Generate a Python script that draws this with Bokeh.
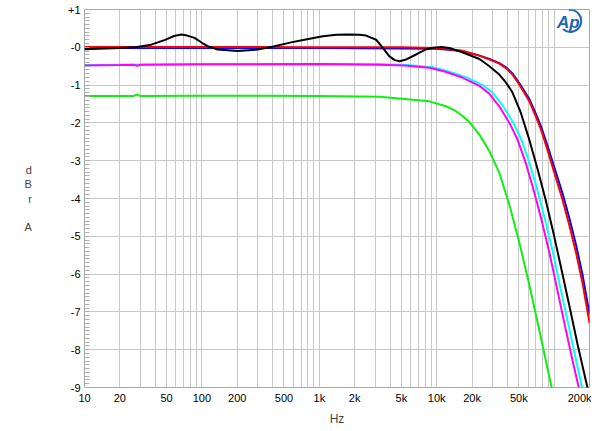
from bokeh.plotting import figure
from bokeh.models import FixedTicker, Range1d
from bokeh.core.properties import value
from bokeh.embed import file_html
from bokeh.resources import INLINE

# ---- data (frequency in Hz, level in dBrA) ----
f_red = [10, 100, 1000, 5000, 10000, 16500, 23100, 28100, 34100, 39200, 44100, 50600,
         61500, 69200, 77300, 87500, 100400, 118000, 135000, 154000, 174000, 200000]
db_red = [0.01, 0.01, 0.0, 0.0, -0.02, -0.09, -0.22, -0.32, -0.43, -0.56, -0.72, -0.99,
          -1.43, -1.80, -2.18, -2.70, -3.32, -4.04, -4.72, -5.45, -6.22, -7.29]

f_blue = [10, 100, 1000, 5000, 10000, 16500, 23100, 28100, 34100, 39200, 44100, 50600,
          61500, 69200, 77300, 87500, 100400, 118000, 135000, 154000, 174000, 200000]
db_blue = [-0.02, -0.02, -0.02, -0.03, -0.04, -0.10, -0.22, -0.31, -0.42, -0.54, -0.69, -0.95,
           -1.37, -1.73, -2.09, -2.59, -3.18, -3.87, -4.53, -5.24, -6.00, -7.05]

f_black = [10, 20, 28, 37, 48, 58, 66.6, 75, 86.4, 100, 112, 136, 202, 299, 415, 575,
           747, 1070, 1400, 1800, 2200, 2500, 3050, 3450, 3950, 4400, 4810, 5400, 6670,
           8000, 9250, 11000, 12800, 16500, 23100, 28100, 34100, 38800, 44100, 52000, 61500,
           71900, 84100, 98400, 115000, 135000, 158000, 192000, 200000]
db_black = [-0.05, -0.02, 0.01, 0.07, 0.19, 0.30, 0.34, 0.31, 0.25, 0.12, 0.03, -0.06,
            -0.10, -0.06, 0.03, 0.13, 0.20, 0.29, 0.33, 0.34, 0.33, 0.31, 0.20, 0.0,
            -0.24, -0.34, -0.37, -0.33, -0.19, -0.06, -0.01, 0.01, -0.02, -0.13, -0.31,
            -0.50, -0.72, -0.93, -1.19, -1.73, -2.45, -3.20, -4.00, -4.90, -5.85, -6.85,
            -7.85, -9.00, -9.40]

f_cyan = [10, 100, 1000, 3480, 5670, 9260, 12500, 17700, 24700, 30100, 36500, 44500, 52000,
          60900, 71200, 83200, 97400, 113000, 133000, 156000, 173000, 187000]
db_cyan = [-0.47, -0.45, -0.44, -0.45, -0.47, -0.53, -0.63, -0.79, -1.00, -1.21, -1.54,
           -1.98, -2.41, -3.01, -3.73, -4.53, -5.41, -6.37, -7.37, -8.37, -9.00, -9.70]

f_magenta = [10, 20, 26, 28, 30, 100, 1000, 3250, 5300, 8650, 11700, 16500, 23100, 28100,
             34100, 41600, 48600, 56900, 66500, 77800, 91000, 106000, 124000, 146000, 162000,
             175000]
db_magenta = [-0.48, -0.47, -0.46, -0.49, -0.46, -0.45, -0.44, -0.46, -0.48, -0.54, -0.64,
              -0.80, -1.02, -1.23, -1.56, -2.00, -2.43, -3.03, -3.75, -4.55, -5.43, -6.39,
              -7.39, -8.39, -9.00, -9.70]

f_green = [10, 20, 26, 28, 30, 100, 1000, 3250, 8650, 12000, 14100, 16500, 19000, 23100,
           28100, 34100, 41600, 50600, 61500, 74800, 91000, 95300, 111000]
db_green = [-1.29, -1.29, -1.29, -1.25, -1.29, -1.28, -1.29, -1.31, -1.43, -1.56, -1.66,
            -1.81, -1.98, -2.31, -2.75, -3.32, -4.17, -5.17, -6.29, -7.49, -8.72, -9.00,
            -10.00]

x_tick_values = [10, 20, 50, 100, 200, 500, 1000, 2000, 5000, 10000, 20000, 50000, 200000]
x_tick_labels = ["10", "20", "50", "100", "200", "500", "1k", "2k", "5k", "10k", "20k", "50k",
                 "200k"]
y_tick_values = [1, 0, -1, -2, -3, -4, -5, -6, -7, -8, -9]
y_tick_labels = ["+1", "-0", "-1", "-2", "-3", "-4", "-5", "-6", "-7", "-8", "-9"]

FONT = "Liberation Sans"

p = figure(width=591, height=428, x_axis_type="log",
           x_range=Range1d(10, 200000), y_range=Range1d(-9, 1),
           output_backend="svg", toolbar_location=None,
           min_border_left=84, min_border_right=2, min_border_top=9, min_border_bottom=36)

p.background_fill_color = "white"
p.border_fill_color = "white"
p.outline_line_color = "#a8a8a8"
p.outline_line_width = 1

# grids
grid_x = [m * 10 ** e for e in range(1, 6) for m in range(1, 10)] + [200000]
p.xgrid.ticker = FixedTicker(ticks=grid_x)
p.ygrid.ticker = FixedTicker(ticks=y_tick_values)
for g in (p.xgrid, p.ygrid):
    g.grid_line_color = "#c8c8c8"
    g.grid_line_width = 1

# x axis
p.xaxis.ticker = FixedTicker(ticks=x_tick_values)
p.xaxis.major_label_overrides = {v: l for v, l in zip(x_tick_values, x_tick_labels)}
p.xaxis.major_tick_line_color = None
p.xaxis.minor_tick_line_color = None
p.xaxis.major_tick_in = 0
p.xaxis.major_tick_out = 0
p.xaxis.minor_tick_in = 0
p.xaxis.minor_tick_out = 0
p.xaxis.axis_line_color = None
p.xaxis.major_label_standoff = 4
p.xaxis.major_label_text_font = FONT
p.xaxis.major_label_text_font_size = "11px"
p.xaxis.major_label_text_color = "black"
p.xaxis.axis_label = "Hz"
p.xaxis.axis_label_text_font = FONT
p.xaxis.axis_label_text_font_size = "12px"
p.xaxis.axis_label_text_font_style = "normal"
p.xaxis.axis_label_standoff = 5

# y axis
minor_y = [round(-9 + 0.1 * i, 1) for i in range(101)]
p.yaxis.ticker = FixedTicker(ticks=y_tick_values, minor_ticks=minor_y)
p.yaxis.major_label_overrides = {v: l for v, l in zip(y_tick_values, y_tick_labels)}
p.yaxis.major_tick_line_color = None
p.yaxis.major_tick_in = 0
p.yaxis.major_tick_out = 0
p.yaxis.minor_tick_line_color = "#b0b0b0"
p.yaxis.minor_tick_in = 5
p.yaxis.minor_tick_out = 0
p.yaxis.axis_line_color = None
p.yaxis.major_label_standoff = 4
p.yaxis.major_label_text_font = FONT
p.yaxis.major_label_text_font_size = "11px"
p.yaxis.major_label_text_color = "black"
p.yaxis.axis_label = "d\nB\nr\n\nA"
p.yaxis.axis_label_orientation = "horizontal"
p.yaxis.axis_label_text_font = FONT
p.yaxis.axis_label_text_font_size = "11px"
p.yaxis.axis_label_text_font_style = "normal"
p.yaxis.axis_label_standoff = 33

# curves
p.line(f_green, db_green, line_color="#11ee11", line_width=2)
p.line(f_cyan, db_cyan, line_color="#00ffff", line_width=2)
p.line(f_magenta, db_magenta, line_color="#ff00ff", line_width=2)
p.line(f_blue, db_blue, line_color="#0000ff", line_width=2)
p.line(f_red, db_red, line_color="#ff0000", line_width=2)
p.line(f_black, db_black, line_color="black", line_width=2)

# Ap logo
p.text(x=[132000], y=[0.66], text=["Ap"], text_font=value(FONT), text_font_style="bold italic",
       text_font_size="17px", text_color="#2566b0", text_align="center", text_baseline="middle")
p.arc(x=[137000], y=[0.70], radius=11, radius_units="screen", start_angle=-2.3, end_angle=1.7,
      line_color="#2566b0", line_width=2)

open("out.html", "w").write(file_html(p, INLINE))
